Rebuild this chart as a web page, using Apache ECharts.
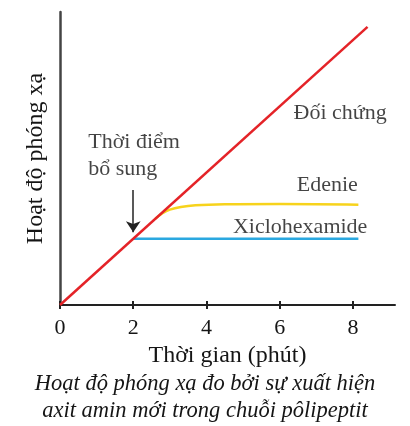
<!DOCTYPE html>
<html>
<head>
<meta charset="utf-8">
<script src="https://cdn.jsdelivr.net/npm/echarts@6/dist/echarts.min.js"></script>
<style>
  html, body { margin: 0; padding: 0; background: #fff; }
  #chart { width: 410px; height: 426px; }
</style>
</head>
<body>
<div id="chart"></div>
<script>
// data (x = minutes, y = arbitrary activity units)
var xTicks = [0, 2, 4, 6, 8]
var controlData = [[0, 0], [8.4, 8.4]]
var edenieData = [[2.6, 2.6], [2.8, 2.77], [3.0, 2.88], [3.3, 2.96], [3.7, 3.01], [4.5, 3.04], [6, 3.05], [8.15, 3.03]]
var cycloData = [[2, 2], [8.15, 2]]
var arrowFrom = [2, 3.47]
var arrowTo = [2, 2.2]
var notes = [
  { pos: [7.65, 5.8], text: 'Đối chứng', align: 'center' },
  { pos: [7.3, 3.63], text: 'Edenie', align: 'center' },
  { pos: [6.56, 2.36], text: 'Xiclohexamide', align: 'center' },
  { pos: [0.77, 4.5], text: 'Thời điểm\nbổ sung', align: 'left' }
]
var caption = 'Hoạt độ phóng xạ đo bởi sự xuất hiện\naxit amin mới trong chuỗi pôlipeptit'

var font = 'Liberation Serif'
var ink = '#151515'
var myChart = echarts.init(document.getElementById('chart'))

var option = {
  animation: false,
  graphic: [{
    type: 'text', x: 205, y: 371,
    style: {
      text: caption, align: 'center', verticalAlign: 'top', fill: ink,
      font: 'italic 22.5px "Liberation Serif"', lineHeight: 27
    }
  }],
  grid: { left: 60, right: 15, top: 12, bottom: 121 },
  xAxis: [
    {
      type: 'value', min: 0, max: 9.15,
      name: 'Thời gian (phút)', nameLocation: 'middle', nameGap: 39,
      nameTextStyle: { fontFamily: font, fontSize: 24, color: ink },
      splitLine: { show: false },
      axisLine: { lineStyle: { color: '#222', width: 2 } },
      axisTick: { length: 4, customValues: xTicks, lineStyle: { color: '#222', width: 2 } },
      axisLabel: { customValues: xTicks, margin: 12, fontFamily: font, fontSize: 22, color: ink }
    },
    {
      type: 'value', min: 0, max: 9.15, position: 'bottom',
      splitLine: { show: false },
      axisLine: { show: false },
      axisTick: { inside: true, length: 4, customValues: xTicks, lineStyle: { color: '#222', width: 2 } },
      axisLabel: { show: false }
    }
  ],
  yAxis: {
    type: 'value', min: 0, max: 8.85,
    name: 'Hoạt độ phóng xạ', nameLocation: 'middle', nameGap: 12,
    nameTextStyle: { fontFamily: font, fontSize: 24, color: ink },
    splitLine: { show: false },
    axisLine: { show: true, lineStyle: { color: '#444', width: 2.5 } },
    axisTick: { show: false },
    axisLabel: { show: false }
  },
  series: [
    {
      name: 'Xiclohexamide', type: 'line', data: cycloData, symbol: 'none',
      lineStyle: { color: '#2aa8e0', width: 2.5 }
    },
    {
      name: 'Edenie', type: 'line', data: edenieData, symbol: 'none', smooth: 0.4,
      lineStyle: { color: '#f7d31c', width: 2.5 }
    },
    {
      name: 'Đối chứng', type: 'line', data: controlData, symbol: 'none',
      lineStyle: { color: '#e42328', width: 2.5 },
      markLine: {
        silent: true,
        symbol: ['none', 'arrow'], symbolSize: 11,
        label: { show: false },
        lineStyle: { color: '#222', width: 1.5, type: 'solid' },
        data: [[{ coord: arrowFrom }, { coord: arrowTo }]]
      }
    },
    {
      type: 'scatter', symbolSize: 0, silent: true,
      data: notes.map(function (n) {
        return {
          value: n.pos,
          label: {
            show: true, position: 'inside', formatter: n.text, align: n.align,
            fontFamily: font, fontSize: 22, lineHeight: 27, color: ink
          }
        }
      })
    }
  ]
}

myChart.setOption(option, true)
</script>
</body>
</html>
